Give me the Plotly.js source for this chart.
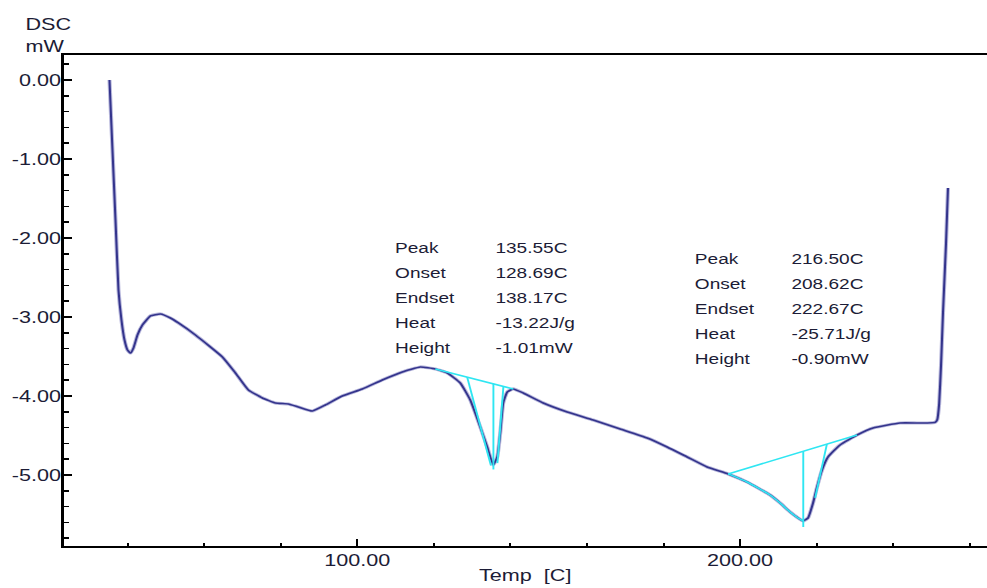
<!DOCTYPE html>
<html>
<head>
<meta charset="utf-8">
<script src="https://cdn.plot.ly/plotly-3.0.1.min.js"></script>
<style>
  html, body { margin: 0; padding: 0; background: #fff; overflow: hidden; }
  #plot { width: 777px; height: 588px; transform: scaleX(1.27027); transform-origin: 0 0; }
</style>
</head>
<body>
<div id="plot"></div>
<script>
// ---- Data ----
const tempC = [35.25, 36.03, 36.82, 37.60, 38.38, 39.17, 39.95, 40.73, 41.52, 42.56,
  43.87, 45.96, 48.57, 51.18, 53.27, 57.70, 64.75, 68.15, 71.54, 75.20,
  78.59, 81.99, 84.60, 88.25, 91.65, 96.09, 101.31, 106.53, 111.75, 116.45,
  120.37, 123.50, 126.89, 129.50, 132.11, 133.94, 135.51, 136.55, 137.34, 138.12,
  139.17, 140.73, 143.34, 148.57, 154.83, 161.62, 168.67, 175.72, 180.94, 186.16,
  191.38, 196.86, 201.82, 207.83, 210.44, 213.05, 215.14, 216.45, 217.75, 219.06,
  220.10, 221.41, 222.98, 226.11, 230.55, 234.73, 241.78, 246.22, 248.85, 250.92,
  251.50, 252.00, 252.50, 253.00, 253.80, 254.31];
const dscMW = [0.000, -0.886, -1.772, -2.658, -3.038, -3.291, -3.418, -3.456, -3.392, -3.228,
  -3.101, -2.987, -2.962, -3.013, -3.076, -3.228, -3.506, -3.709, -3.924, -4.025,
  -4.089, -4.101, -4.139, -4.190, -4.114, -4.000, -3.911, -3.797, -3.696, -3.633,
  -3.658, -3.709, -3.835, -4.051, -4.392, -4.646, -4.873, -4.772, -4.468, -4.089,
  -3.949, -3.911, -3.962, -4.089, -4.203, -4.304, -4.418, -4.532, -4.646, -4.772,
  -4.899, -4.987, -5.089, -5.253, -5.354, -5.468, -5.544, -5.582, -5.544, -5.354,
  -5.152, -4.937, -4.772, -4.620, -4.494, -4.405, -4.342, -4.342, -4.342, -4.335,
  -4.300, -4.100, -3.600, -2.950, -2.060, -1.367];

// Peak 1 analysis construction lines
const base1X = [120.37, 140.73];
const base1Y = [-3.658, -3.911];
const vert1X = [135.55, 135.55];
const vert1Y = [-3.847, -4.93];
const onset1X = [128.69, 134.9];
const onset1Y = [-3.761, -4.88];
const endset1X = [138.17, 136.6];
const endset1Y = [-3.879, -4.85];

// Peak 2 analysis construction lines
const base2X = [196.86, 230.55];
const base2Y = [-4.987, -4.494];
const vert2X = [216.5, 216.5];
const vert2Y = [-4.700, -5.66];
const endset2X = [222.67, 219.6];
const endset2Y = [-4.609, -5.29];
const flank2Range = [196.8, 216.5];

// Ticks
const xTickVals = [100, 200];
const xTickText = ['100.00', '200.00'];
const yTickVals = [0, -1, -2, -3, -4, -5];
const yTickText = ['0.00', '-1.00', '-2.00', '-3.00', '-4.00', '-5.00'];

// Result tables
const resultLabels = ['Peak', 'Onset', 'Endset', 'Heat', 'Height'];
const peak1Values = ['135.55C', '128.69C', '138.17C', '-13.22J/g', '-1.01mW'];
const peak2Values = ['216.50C', '208.62C', '222.67C', '-25.71J/g', '-0.90mW'];

// ---- Styling ----
const FONT = 'Liberation Sans, Arial, sans-serif';
const TXT = '#1c1c36';
const CURVE = '#34348c';
const CYAN = '#2fe6f2';

const flankX = [], flankY = [];
tempC.forEach((t, i) => { if (t >= flank2Range[0] && t <= flank2Range[1]) { flankX.push(t); flankY.push(dscMW[i]); } });

function seg(x, y, w) {
  return { x: x, y: y, type: 'scatter', mode: 'lines', line: { color: CYAN, width: w || 1.5 }, hoverinfo: 'skip', showlegend: false };
}

const traces = [
  { x: tempC, y: dscMW, type: 'scatter', mode: 'lines', line: { color: '#b8b8dc', width: 3.2, shape: 'spline', smoothing: 0.4 }, hoverinfo: 'skip', showlegend: false },
  { x: tempC, y: dscMW, type: 'scatter', mode: 'lines', line: { color: CURVE, width: 1.6, shape: 'spline', smoothing: 0.4 }, name: 'DSC', showlegend: false },
  seg(base1X, base1Y), seg(vert1X, vert1Y), seg(onset1X, onset1Y), seg(endset1X, endset1Y),
  seg(base2X, base2Y), seg(vert2X, vert2Y), seg(endset2X, endset2Y),
  { x: flankX, y: flankY, type: 'scatter', mode: 'lines', line: { color: CYAN, width: 1.5, shape: 'spline', smoothing: 0.4 }, hoverinfo: 'skip', showlegend: false }
];

// positions in final pixels -> paper coords
const L = 63, R = 987, T = 55, B = 546;
function px(xf) { return (xf - L) / (R - L); }
function py(yf) { return (B - yf) / (B - T); }

const annotations = [
  { text: 'DSC', x: px(22), y: py(25), xref: 'paper', yref: 'paper', xanchor: 'left', yanchor: 'middle', showarrow: false, font: { family: FONT, size: 17, color: TXT } },
  { text: 'mW', x: px(22), y: py(46), xref: 'paper', yref: 'paper', xanchor: 'left', yanchor: 'middle', showarrow: false, font: { family: FONT, size: 17, color: TXT } }
];
function addTable(labels, values, lx, vx, y0) {
  labels.forEach((lab, i) => {
    const yy = py(y0 + i * 25);
    annotations.push({ text: lab, x: px(lx), y: yy, xref: 'paper', yref: 'paper', xanchor: 'left', yanchor: 'middle', showarrow: false, font: { family: FONT, size: 15, color: TXT } });
    annotations.push({ text: values[i], x: px(vx), y: yy, xref: 'paper', yref: 'paper', xanchor: 'left', yanchor: 'middle', showarrow: false, font: { family: FONT, size: 15, color: TXT } });
  });
}
addTable(resultLabels, peak1Values, 392, 492, 247);
addTable(resultLabels, peak2Values, 692, 789, 258);

const layout = {
  width: 777, height: 588,
  margin: { l: 63 / 1.27027, r: 0, t: 55, b: 42, pad: 0 },
  paper_bgcolor: '#ffffff', plot_bgcolor: '#ffffff',
  font: { family: FONT, size: 17, color: TXT },
  showlegend: false,
  xaxis: {
    range: [23.24, 264.5], showgrid: false, zeroline: false,
    showline: true, linecolor: '#000', linewidth: 2, mirror: true,
    ticks: 'inside', ticklen: 7, tickwidth: 1.5, tickcolor: '#000',
    tickmode: 'array', tickvals: xTickVals, ticktext: xTickText,
    tickfont: { family: FONT, size: 17, color: TXT },
    ticklabelstandoff: -2,
    minor: { tickmode: 'linear', tick0: 0, dtick: 20, ticks: 'inside', ticklen: 3.5, tickwidth: 1.5, tickcolor: '#000', showgrid: false },
    title: { text: 'Temp\u00a0 [C]', font: { family: FONT, size: 17, color: TXT }, standoff: 0 },
    automargin: false
  },
  yaxis: {
    range: [-5.899, 0.316], showgrid: false, zeroline: false,
    showline: true, linecolor: '#000', linewidth: 1.6, mirror: false,
    ticks: 'inside', ticklen: 6.5, tickwidth: 1.5, tickcolor: '#000',
    tickmode: 'array', tickvals: yTickVals, ticktext: yTickText,
    tickfont: { family: FONT, size: 17, color: TXT },
    ticklabelstandoff: -3,
    minor: { tickmode: 'linear', tick0: 0, dtick: 0.2, ticks: 'inside', ticklen: 4, tickwidth: 1.5, tickcolor: '#000', showgrid: false },
    automargin: false
  },
  annotations: annotations
};

Plotly.newPlot('plot', traces, layout, { staticPlot: true, displayModeBar: false });
</script>
</body>
</html>
